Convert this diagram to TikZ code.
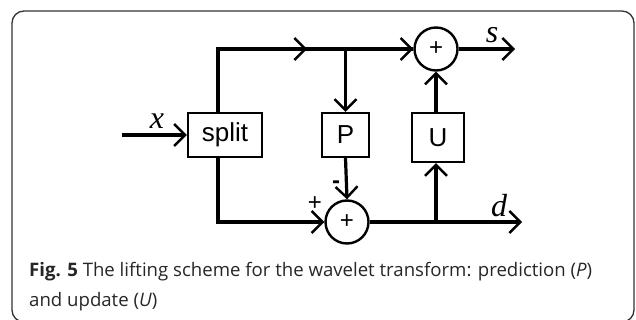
\documentclass[tikz,border=0pt]{standalone}
\usepackage{fontspec}
\setmainfont{Open Sans}
\newfontfamily\diagsans{Liberation Sans}
\newfontfamily\diagserif{Liberation Serif}
\usetikzlibrary{arrows.meta}
\begin{document}
\begin{tikzpicture}[x=1pt,y=-1pt,
  sig/.style={line width=3.2pt},
  arr/.style={-{Straight Barb[length=11pt,width=22pt,line width=2.4pt]}},
  blk/.style={draw, line width=2.4pt, inner sep=0pt, font=\diagsans\fontsize{26}{26}\selectfont},
  sumnode/.style={circle, draw, line width=2.4pt, minimum size=43pt, inner sep=0pt, font=\diagsans\fontsize{24}{24}\selectfont},
  varlabel/.style={font=\diagserif\itshape\fontsize{32}{32}\selectfont, inner sep=0pt},
  signlabel/.style={font=\diagsans\fontsize{24}{24}\selectfont, inner sep=0pt},
  captext/.style={anchor=base west, inner sep=0pt, font=\fontsize{18.6}{22}\selectfont, text=black!85}]
\useasboundingbox (0,0) rectangle (636,320);
\draw[line width=1.3pt, draw=black!80, rounded corners=12pt] (12,11) rectangle (634,322);

\node[blk, minimum width=74pt, minimum height=44pt] (split) at (225,135) {split};
\node[blk, minimum width=47pt, minimum height=44pt] (P) at (345.5,135) {P};
\node[blk, minimum width=52pt, minimum height=49pt] (U) at (438,137.5) {U};
\node[sumnode] (s1) at (436,49) {+};
\node[sumnode] (s2) at (347,222) {+};

\coordinate (xin) at (122,135);
\coordinate (tl) at (218,49);
\coordinate (bl) at (218,222);
\coordinate (m1) at (307,49);
\coordinate (pb) at (P.north |- tl);
\coordinate (uj) at (s1.south |- s2.east);
\coordinate (sout) at (515,49);
\coordinate (dout) at (522,222);

\draw[sig,arr] (xin) -- (split.west);
\draw[sig] (tl |- split.north) -- (tl) -- (s1.west);
\draw[sig,arr] (tl) -- (m1);
\draw[sig,arr] (m1) -- (s1.west);
\draw[sig,arr] (pb) -- (P.north);
\draw[sig,arr] (P.south) -- (s2.north);
\draw[sig,arr] (tl |- split.south) -- (bl) -- (s2.west);
\draw[sig,arr] (s2.east) -- (dout);
\draw[sig,arr] (uj) -- (uj |- U.south);
\draw[sig,arr] (uj |- U.north) -- (s1.south);
\draw[sig,arr] (s1.east) -- (sout);

\node[varlabel] (lx) at (157,121) {x};
\node[varlabel] (ls) at (492,35) {s};
\node[varlabel] (ld) at (499,206) {d};
\node[signlabel, font=\diagsans\bfseries\fontsize{24}{24}\selectfont] (lminus) at (336,185) {-};
\node[signlabel] (lplus) at (315,204) {+};

\node[captext] (cap1) at (29,276) {\textbf{Fig. 5} The lifting scheme for the wavelet transform: prediction (\textit{P})};
\node[captext] (cap2) at (29,306) {and update (\textit{U})};
\end{tikzpicture}
\end{document}
